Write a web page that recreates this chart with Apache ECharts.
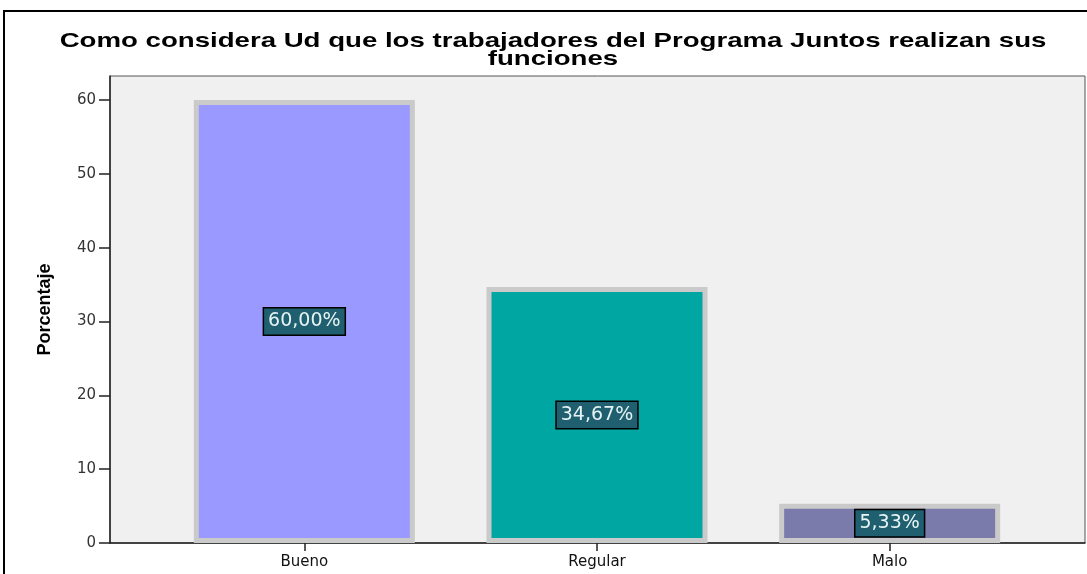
<!DOCTYPE html>
<html>
<head>
<meta charset="utf-8">
<script src="https://cdn.jsdelivr.net/npm/echarts@6/dist/echarts.min.js"></script>
<style>html,body{margin:0;padding:0;background:#fff}#c{width:1087px;height:574px}</style>
</head>
<body>
<div id="c"></div>
<script>
const titleText = "Como considera Ud que los trabajadores del Programa Juntos realizan sus\nfunciones";
const categories = ["Bueno", "Regular", "Malo"];
const values = [60.00, 34.67, 5.33];
const labels = ["60,00%", "34,67%", "5,33%"];
const barColors = ["#9999ff", "#00a6a1", "#7a7aab"];
const yTickMax = 60;
const yTickStep = 10;
const yName = "Porcentaje";

const Y_TOP = 63.25;          // axis extent above the last tick
const PLOT_TOP = 76, PLOT_BOTTOM = 31;
const plotH = 574 - PLOT_TOP - PLOT_BOTTOM;
const tickTop = PLOT_TOP + plotH * (1 - yTickMax / Y_TOP);

const chart = echarts.init(document.getElementById('c'), null, {renderer: 'canvas'});
chart.setOption({
  animation: false,
  backgroundColor: '#ffffff',
  graphic: [{
    type: 'rect', silent: true, z: 100,
    shape: {x: 4, y: 11, width: 1100, height: 600},
    style: {fill: null, stroke: '#000', lineWidth: 2}
  }, {
    type: 'text', silent: true, z: 100,
    x: 553, y: 32, scaleX: 1.315,
    style: {
      text: titleText, textAlign: 'center', textVerticalAlign: 'top',
      font: 'bold 21px "Liberation Sans"', lineHeight: 18, fill: '#000'
    }
  }],
  grid: [
    {left: 110, right: 2, top: PLOT_TOP, bottom: PLOT_BOTTOM, show: true, backgroundColor: '#f0f0f0', borderColor: '#555', borderWidth: 1},
    {left: 110, right: 2, top: tickTop, bottom: PLOT_BOTTOM},
    {left: 158, right: 51, top: PLOT_TOP, bottom: PLOT_BOTTOM}
  ],
  xAxis: [
    {gridIndex: 0, type: 'category', data: categories, axisLine: {show: true, lineStyle: {color: '#222', width: 1.5}},
     axisTick: {show: false}, axisLabel: {show: false}},
    {gridIndex: 1, type: 'category', data: categories, show: false},
    {gridIndex: 2, type: 'category', data: categories, axisLine: {show: false},
     axisTick: {show: true, alignWithLabel: true, length: 8, lineStyle: {color: '#222', width: 1.5}},
     axisLabel: {fontFamily: 'DejaVu Sans', fontSize: 15, color: '#111', margin: 12}}
  ],
  yAxis: [
    {gridIndex: 0, type: 'value', min: 0, max: Y_TOP, name: yName, nameLocation: 'middle', nameGap: 56,
     nameTextStyle: {fontFamily: 'Liberation Sans', fontWeight: 'bold', fontSize: 18, color: '#000'},
     splitLine: {show: false}, axisLine: {show: true, lineStyle: {color: '#222', width: 1.5}},
     axisTick: {show: false}, axisLabel: {show: false}},
    {gridIndex: 1, type: 'value', min: 0, max: yTickMax, interval: yTickStep,
     splitLine: {show: false}, axisLine: {show: false},
     axisTick: {show: true, length: 11, lineStyle: {color: '#222', width: 1.5}},
     axisLabel: {fontFamily: 'DejaVu Sans', fontSize: 15, color: '#333', margin: 14}},
    {gridIndex: 2, type: 'value', min: 0, max: Y_TOP, show: false}
  ],
  series: [{
    type: 'bar',
    xAxisIndex: 2, yAxisIndex: 2,
    barWidth: 221,
    data: values.map((v, i) => ({
      value: v,
      itemStyle: {color: barColors[i], borderColor: '#cacaca', borderWidth: 5}
    })),
    label: {
      show: true,
      position: 'inside',
      formatter: p => labels[p.dataIndex],
      fontFamily: 'DejaVu Sans', fontSize: 19, color: '#e6f4f4',
      backgroundColor: '#1f5f6f', borderColor: '#000', borderWidth: 1.5,
      padding: [4, 4, 3, 4]
    }
  }]
});
</script>
</body>
</html>
